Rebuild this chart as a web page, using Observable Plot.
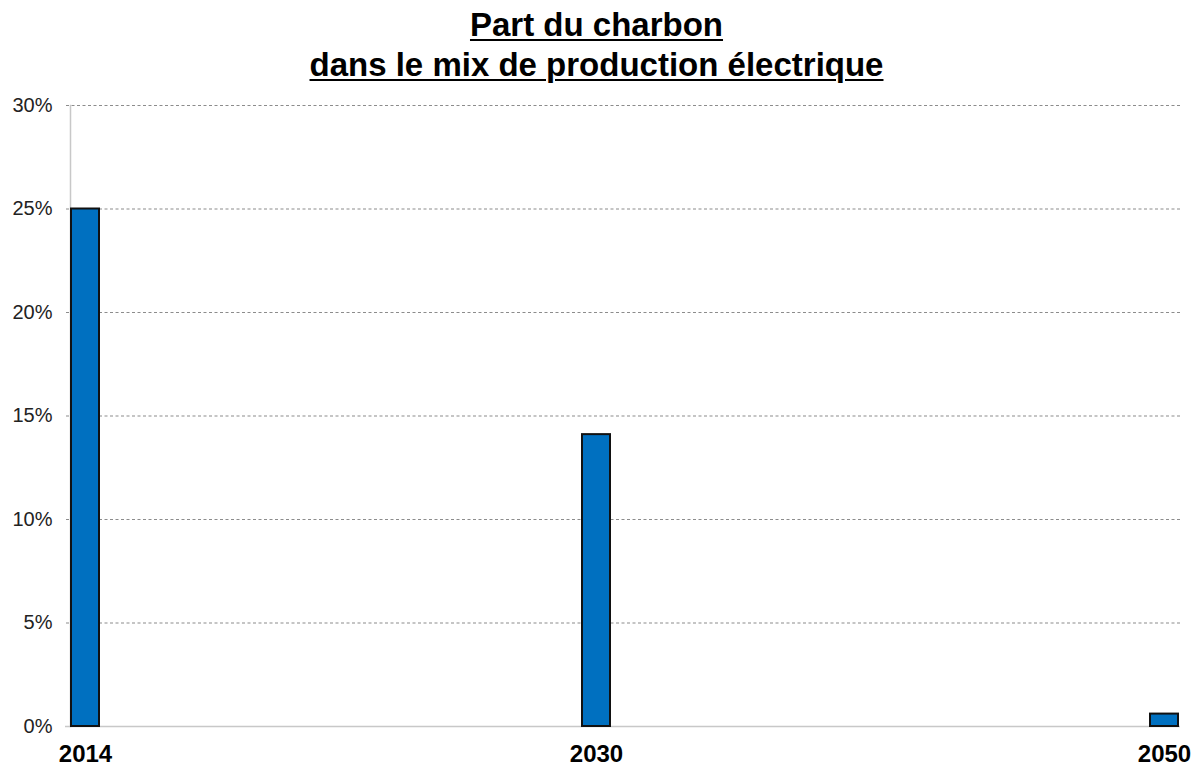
<!DOCTYPE html>
<html>
<head>
<meta charset="utf-8">
<script src="https://cdn.jsdelivr.net/npm/d3@7"></script>
<script src="https://cdn.jsdelivr.net/npm/@observablehq/plot@0.6"></script>
<style>
  html, body { margin: 0; padding: 0; background: #fff; }
  #title { width: 1193px; height: 85px; box-sizing: border-box; padding-top: 5px; text-align: center;
    font-family: "Liberation Sans", Arial, sans-serif; font-weight: bold; font-size: 33px; line-height: 40px; color: #000; }
  #title span { text-decoration: underline; text-underline-offset: 3px; text-decoration-thickness: 2px; }
</style>
</head>
<body>
<div id="title"><span>Part du charbon</span><br><span>dans le mix de production électrique</span></div>
<div id="chart"></div>
<script>
const years = [2014, 2030, 2050];
const shares = [25, 14.1, 0.6];
const yTicks = [0, 5, 10, 15, 20, 25, 30];

const data = years.map((year, i) => ({year, share: shares[i]}));

const chart = Plot.plot({
  width: 1193,
  height: 682,
  marginTop: 20,
  marginBottom: 41,
  marginLeft: 70,
  marginRight: 13,
  style: {fontFamily: "'Liberation Sans', Arial, sans-serif", background: "#fff"},
  x: {type: "linear", domain: [2014, 2030, 2050], range: [85, 596, 1164]},
  y: {domain: [0, 30]},
  marks: [
    Plot.ruleY(yTicks.filter(t => t > 0), {stroke: "#8c8c8c", strokeDasharray: "3,2.5", strokeWidth: 1.2, insetLeft: -4}),
    Plot.ruleY([0], {stroke: "#c8c8c8", strokeWidth: 1.5, insetLeft: -5}),
    Plot.frame({anchor: "left", stroke: "#c8c8c8", strokeWidth: 1.5}),
    Plot.axisY({ticks: yTicks, tickSize: 0, tickPadding: 18, tickFormat: d => d + "%", fontSize: 20, color: "#222", label: null}),
    Plot.axisX({ticks: years, tickSize: 0, tickPadding: 18, tickFormat: d => String(d), fontSize: 24, fontWeight: "bold", color: "#000", label: null}),
    Plot.rectY(data, {x1: "year", x2: "year", y1: 0, y2: "share", fill: "#0070C0", stroke: "#111", strokeWidth: 2, insetLeft: -14, insetRight: -14})
  ]
});
document.getElementById("chart").appendChild(chart);
</script>
</body>
</html>
